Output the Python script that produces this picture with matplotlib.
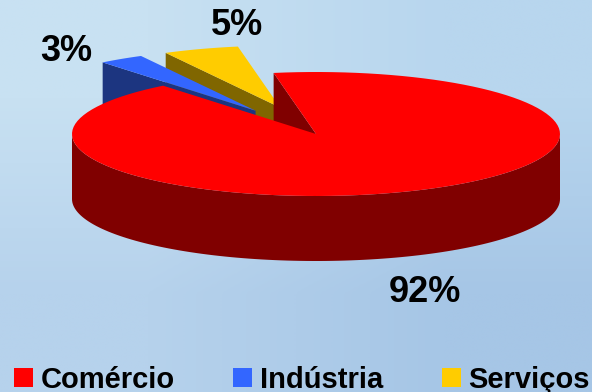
import numpy as np
import matplotlib.pyplot as plt
from matplotlib.patches import Polygon, Patch

# participação por setor
setores = ["Comércio", "Indústria", "Serviços"]
participacao = [92, 3, 5]
rotulos = ["92%", "3%", "5%"]
cores_topo = ["#FF0000", "#3366FF", "#FFCC00"]
cores_lado = ["#800000", "#1C3580", "#806600"]
afastamento = [0.0, 0.45, 0.45]

W, H = 592, 392
cx, cy = 316, 134          # centro da elipse (px)
rx, ry = 244, 62           # semi-eixos
altura = 65                # espessura do disco
ang0 = 100                 # ângulo inicial, sentido horário

pos_rotulos = [(425, 293), (66, 51), (237, 25)]

plt.rcParams["font.family"] = ["Liberation Sans", "DejaVu Sans"]

fig = plt.figure(figsize=(W / 100, H / 100), dpi=100)
ax = fig.add_axes([0, 0, 1, 1])
ax.set_xlim(0, W)
ax.set_ylim(H, 0)
ax.axis("off")

# fundo em degradê azul claro
fundo = np.array([[[200, 225, 242], [184, 214, 238]],
                  [[182, 210, 236], [166, 198, 230]]]) / 255
ax.imshow(fundo, extent=[0, W, H, 0], interpolation="bilinear", aspect="auto", zorder=0)


def pt(a, off, dz=0.0):
    r = np.radians(a)
    return (cx + off[0] + rx * np.cos(r), cy + off[1] - ry * np.sin(r) + dz)


def arco(a1, a2, off, dz=0.0, n=120):
    return [pt(a, off, dz) for a in np.linspace(a1, a2, n)]


fatias = []
acum = 0.0
for i, p in enumerate(participacao):
    a2 = ang0 - acum * 3.6
    a1 = ang0 - (acum + p) * 3.6
    acum += p
    meio = np.radians((a1 + a2) / 2)
    off = (afastamento[i] * rx * np.cos(meio), -afastamento[i] * ry * np.sin(meio))
    fatias.append((i, a1, a2, meio, off))

# desenha do fundo para a frente
fatias.sort(key=lambda f: -np.sin(f[3]))
z = 1
for i, a1, a2, meio, off in fatias:
    centro = (cx + off[0], cy + off[1])
    # faces radiais visíveis
    for a, vis in ((a2, np.cos(np.radians(a2)) < 0), (a1, np.cos(np.radians(a1)) > 0)):
        if vis:
            face = [centro, pt(a, off), pt(a, off, altura), (centro[0], centro[1] + altura)]
            ax.add_patch(Polygon(face, closed=True, fc=cores_lado[i], ec="none", zorder=z))
            z += 1
    # parede externa (metade da frente)
    for k in (-1, 0, 1):
        b1, b2 = max(a1, 180 + 360 * k), min(a2, 360 + 360 * k)
        if b2 > b1:
            parede = arco(b1, b2, off) + arco(b2, b1, off, altura)
            ax.add_patch(Polygon(parede, closed=True, fc=cores_lado[i], ec="none", zorder=z))
            z += 1
    # topo
    topo = [centro] + arco(a1, a2, off)
    ax.add_patch(Polygon(topo, closed=True, fc=cores_topo[i], ec="none", zorder=z))
    z += 1

for (x, y), txt in zip(pos_rotulos, rotulos):
    ax.text(x, y, txt, fontsize=26, fontweight="bold", ha="center", va="center", zorder=50)

alcas = [Patch(fc=c, ec="none") for c in cores_topo]
fig.legend(alcas, setores, loc="lower left", bbox_to_anchor=(14 / W, -2 / H),
           ncol=3, frameon=False, borderpad=0, borderaxespad=0,
           handlelength=0.65, handleheight=0.65, handletextpad=0.27,
           columnspacing=2.0, prop={"size": 21, "weight": "bold"})

fig.savefig("out.png", dpi=100)
